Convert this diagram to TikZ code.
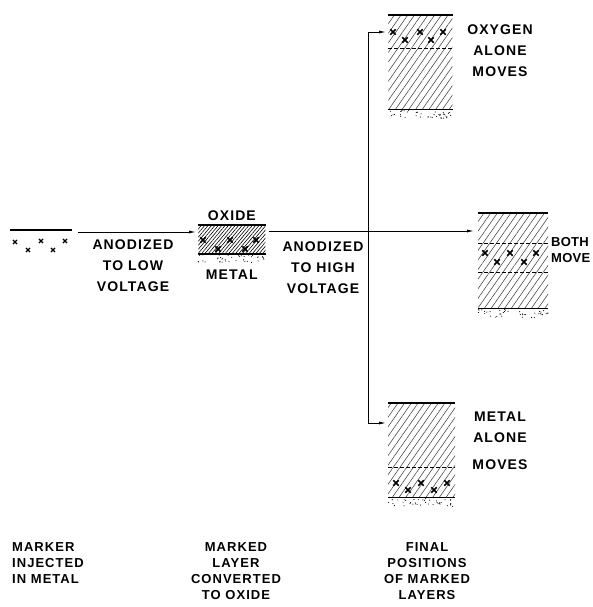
\documentclass[tikz,border=0pt]{standalone}
\usepackage{fontspec}
\setmainfont{Liberation Sans}
\newfontfamily\lettering[LetterSpace=8]{Liberation Sans}
\newfontfamily\narrowlettering[LetterSpace=2]{Liberation Sans}
\usetikzlibrary{arrows.meta,patterns.meta,positioning}

% pseudo random dots under a layer: x, y, width
\newcommand{\stipple}[3]{%
  \foreach \k in {1,...,40}{
    \pgfmathsetmacro{\sx}{#1+rnd*#3}
    \pgfmathsetmacro{\sy}{#2+1.5+rnd*8}
    \fill (\sx,\sy) circle (0.55pt);
  }}

\begin{document}
\begin{tikzpicture}[
  x=1pt, y=-1pt,
  >={Latex[length=7pt,width=3pt]},
  lbl/.style={font=\lettering\bfseries\fontsize{14}{21}\selectfont, align=center, inner sep=0pt},
  note/.style={font=\lettering\bfseries\fontsize{13}{16}\selectfont, inner sep=0pt},
  sidenote/.style={font=\narrowlettering\bfseries\fontsize{13}{16}\selectfont, inner sep=0pt},
  layer/.style={rectangle, inner sep=0pt, anchor=north west,
    pattern={Lines[angle=55,distance=5.5pt,line width=0.55pt]}, pattern color=black!75},
  oxlayer/.style={rectangle, inner sep=0pt, anchor=north west,
    pattern={Lines[angle=50,distance=2.6pt,line width=0.6pt]}, pattern color=black},
  surf/.style={line width=1.8pt},
  lim/.style={dashed, line width=0.7pt, dash pattern=on 4pt off 2pt},
  arr/.style={->, line width=0.8pt, shorten >=2pt},
  wire/.style={-, line width=0.8pt},
  marker/.pic={\draw[line width=1.6pt] (-2.7,-2.7) -- (2.7,2.7) (-2.7,2.7) -- (2.7,-2.7);},
  smallx/.pic={\draw[line width=1.1pt] (-2.1,-2.1) -- (2.1,2.1) (-2.1,2.1) -- (2.1,-2.1);},
]
\useasboundingbox (0,0) rectangle (593,607);
\pgfmathsetseed{4711}

%------------------- marker injected in metal -------------------
\coordinate (metal0) at (10,230);
\draw[surf, line width=1.2pt] (metal0) -- ++(62,0);
\foreach \px/\py in {15/242, 28/250, 41/241, 53/250, 65/241}
  \pic at (\px,\py) {smallx};
\coordinate (start) at (78,232);

%------------------- oxide layer -------------------
\node (oxbox) [oxlayer, minimum width=67pt, minimum height=28pt] at (198,225) {};
\draw[surf] (oxbox.north west) -- (oxbox.north east);
\draw[surf] (oxbox.south west) -- (oxbox.south east);
\foreach \px/\py in {203/240, 218/249, 230/240, 245/249, 256/240}
  \pic at (\px,\py) {marker};
\stipple{198}{253}{67}
\node (oxide) [lbl, above=4pt of oxbox] {OXIDE};
\node (metal) [lbl, below=16pt of oxbox] {METAL};

%------------------- final layers -------------------
% oxygen alone moves
\node (topbox) [layer, minimum width=64pt, minimum height=94pt] at (388,15) {};
\draw[surf] (topbox.north west) -- (topbox.north east);
\draw[surf] (topbox.south west) -- (topbox.south east);
\draw[lim] ([yshift=-33pt]topbox.north west) -- ([yshift=-33pt]topbox.north east);
\foreach \px/\py in {393/32, 405/40, 420/32, 431/40, 443/32}
  \pic at (\px,\py) {marker};
\stipple{388}{109}{64}

% both move
\node (bothbox) [layer, minimum width=70pt, minimum height=95pt] at (478,213) {};
\draw[surf] (bothbox.north west) -- (bothbox.north east);
\draw[surf] (bothbox.south west) -- (bothbox.south east);
\draw[lim] ([yshift=-30pt]bothbox.north west) -- ([yshift=-30pt]bothbox.north east);
\draw[lim] ([yshift=-59pt]bothbox.north west) -- ([yshift=-59pt]bothbox.north east);
\foreach \px/\py in {485/253, 497/262, 510/253, 524/262, 536/253}
  \pic at (\px,\py) {marker};
\stipple{478}{308}{70}

% metal alone moves
\node (lowbox) [layer, minimum width=67pt, minimum height=94pt] at (388,403) {};
\draw[surf] (lowbox.north west) -- (lowbox.north east);
\draw[surf] (lowbox.south west) -- (lowbox.south east);
\draw[lim] ([yshift=-64pt]lowbox.north west) -- ([yshift=-64pt]lowbox.north east);
\foreach \px/\py in {396/483, 408/490, 421/483, 434/490, 447/483}
  \pic at (\px,\py) {marker};
\stipple{388}{497}{67}

%------------------- labels -------------------
\node (lowv) [lbl, anchor=north] at (133,240) {ANODIZED\\TO LOW\\VOLTAGE};
\node (highv) [lbl, anchor=north] at (323,242) {ANODIZED\\TO HIGH\\VOLTAGE};
\node (oxmoves) [lbl, anchor=north] at (500,25) {OXYGEN\\ALONE\\MOVES};
\node (bothmoves) [sidenote, align=left, anchor=north west] at (551,237) {BOTH\\MOVE};
\node (metmoves) [lbl, anchor=north] at (500,412) {METAL\\ALONE\\[6pt]MOVES};

\node (injected) [note, align=left, anchor=north west] at (12,542) {MARKER\\INJECTED\\IN METAL};
\node (converted) [note, align=center, anchor=north] at (236,542) {MARKED\\LAYER\\CONVERTED\\TO OXIDE};
\node (final) [note, align=center, anchor=north] at (427,542) {FINAL\\POSITIONS\\OF MARKED\\LAYERS};

%------------------- arrows -------------------
\coordinate (split) at (368,231);
\draw[arr] (start) -- (oxbox.west |- start);                               % low voltage
\draw[wire, shorten <=3pt] (oxbox.east |- split) -- (split);               % high voltage
\draw[arr, shorten >=4pt] (split) -- (bothbox.west |- split);              % both move
\draw[arr] (split) |- ([yshift=-17pt]topbox.north west);                    % oxygen alone
\draw[arr] (split) |- ([yshift=-20pt]lowbox.north west);                    % metal alone

\end{tikzpicture}
\end{document}
